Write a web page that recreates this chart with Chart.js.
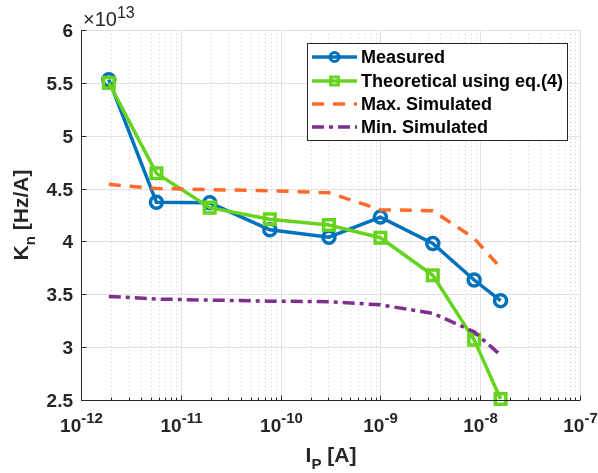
<!DOCTYPE html>
<html>
<head>
<meta charset="utf-8">
<script src="https://cdn.jsdelivr.net/npm/chart.js@4/dist/chart.umd.min.js"></script>
<style>
  html, body { margin: 0; padding: 0; background: #fff; }
</style>
</head>
<body>
<canvas id="kn" width="598" height="473"></canvas>
<script>
// probe current I_P [A]
const currents = [1.9e-12, 5.7e-12, 1.95e-11, 7.8e-11, 3.05e-10, 1.0e-9, 3.35e-9, 8.7e-9, 1.6e-8];
// K_n in units of 1e13 Hz/A
const measured    = [5.53, 4.37, 4.365, 4.11, 4.04, 4.23, 3.98, 3.635, 3.44];
const theoretical = [5.50, 4.645, 4.32, 4.21, 4.155, 4.035, 3.68, 3.07, 2.51];
const maxSim      = [4.54, 4.50, 4.49, 4.48, 4.46, 4.30, 4.29, 4.03, 3.75];
const minSim      = [3.48, 3.455, 3.445, 3.435, 3.43, 3.40, 3.32, 3.145, 2.925];

const yTicks = [2.5, 3, 3.5, 4, 4.5, 5, 5.5, 6];
const yTickLabels = ['2.5', '3', '3.5', '4', '4.5', '5', '5.5', '6'];
const xDecades = [-12, -11, -10, -9, -8, -7];

const seriesNames = ['Measured', 'Theoretical using eq.(4)', 'Max. Simulated', 'Min. Simulated'];

const INK = '#262626';
const FONT = '"Liberation Sans", Arial, sans-serif';

const pts = vals => vals.map((v, i) => ({ x: currents[i], y: v }));

// text with a raised exponent, centred on cx
function powText(ctx, base, exp, cx, baseline, bigFont, smallFont, raise, align) {
  ctx.font = bigFont;
  const wb = ctx.measureText(base).width;
  ctx.font = smallFont;
  const we = ctx.measureText(exp).width;
  let x0 = align === 'left' ? cx : cx - (wb + we) / 2;
  ctx.textAlign = 'left';
  ctx.textBaseline = 'alphabetic';
  ctx.font = bigFont;
  ctx.fillText(base, x0, baseline);
  ctx.font = smallFont;
  ctx.fillText(exp, x0 + wb, baseline - raise);
}

const frame = {
  id: 'frame',
  beforeDatasetsDraw(chart) {
    const { ctx, chartArea: a, scales: { x, y } } = chart;
    ctx.save();
    ctx.lineWidth = 1;

    // minor vertical grid (dotted)
    ctx.strokeStyle = '#cccccc';
    ctx.setLineDash([1, 3]);
    xDecades.slice(0, -1).forEach(d => {
      for (let m = 2; m <= 9; m++) {
        const px = Math.round(x.getPixelForValue(m * Math.pow(10, d))) + 0.5;
        ctx.beginPath(); ctx.moveTo(px, a.top); ctx.lineTo(px, a.bottom); ctx.stroke();
      }
    });

    // major grid
    ctx.setLineDash([]);
    ctx.strokeStyle = '#e1e1e1';
    xDecades.forEach(d => {
      const px = Math.round(x.getPixelForValue(Math.pow(10, d))) + 0.5;
      ctx.beginPath(); ctx.moveTo(px, a.top); ctx.lineTo(px, a.bottom); ctx.stroke();
    });
    yTicks.forEach(t => {
      const py = Math.round(y.getPixelForValue(t)) + 0.5;
      ctx.beginPath(); ctx.moveTo(a.left, py); ctx.lineTo(a.right, py); ctx.stroke();
    });
    ctx.restore();
  },
  afterDraw(chart) {
    const { ctx, chartArea: a, scales: { x, y } } = chart;
    ctx.save();
    ctx.strokeStyle = INK;
    ctx.fillStyle = INK;
    ctx.lineWidth = 1;

    // axes lines
    const L = Math.round(a.left) + 0.5, B = Math.round(a.bottom) + 0.5;
    ctx.beginPath();
    ctx.moveTo(L, a.top); ctx.lineTo(L, B); ctx.lineTo(a.right, B);
    ctx.stroke();

    // x ticks
    xDecades.forEach((d, i) => {
      const px = Math.round(x.getPixelForValue(Math.pow(10, d))) + 0.5;
      ctx.beginPath(); ctx.moveTo(px, B); ctx.lineTo(px, B - 5); ctx.stroke();
      if (i < xDecades.length - 1) {
        for (let m = 2; m <= 9; m++) {
          const mx = Math.round(x.getPixelForValue(m * Math.pow(10, d))) + 0.5;
          ctx.beginPath(); ctx.moveTo(mx, B); ctx.lineTo(mx, B - 3); ctx.stroke();
        }
      }
      powText(ctx, '10', '-' + Math.abs(d), px, 432, 'bold 19px ' + FONT, 'bold 15px ' + FONT, 9);
    });

    // y ticks
    yTicks.forEach((t, i) => {
      const py = Math.round(y.getPixelForValue(t)) + 0.5;
      ctx.beginPath(); ctx.moveTo(L, py); ctx.lineTo(L + 5, py); ctx.stroke();
      ctx.font = 'bold 19px ' + FONT;
      ctx.textAlign = 'right';
      ctx.textBaseline = 'middle';
      ctx.fillText(yTickLabels[i], 73, py + 1);
    });

    // exponent multiplier
    powText(ctx, '\u00d710', '13', 83, 26, '20px ' + FONT, '16px ' + FONT, 8, 'left');

    // x label I_P [A]
    ctx.textBaseline = 'alphabetic';
    ctx.textAlign = 'left';
    ctx.font = 'bold 21px ' + FONT;
    const wI = ctx.measureText('I').width;
    ctx.font = 'bold 15px ' + FONT;
    const wP = ctx.measureText('P').width;
    ctx.font = 'bold 21px ' + FONT;
    const wA = ctx.measureText(' [A]').width;
    let sx = 331 - (wI + wP + wA) / 2;
    ctx.fillText('I', sx, 462);
    ctx.font = 'bold 15px ' + FONT;
    ctx.fillText('P', sx + wI, 469);
    ctx.font = 'bold 21px ' + FONT;
    ctx.fillText(' [A]', sx + wI + wP, 462);

    // y label K_n [Hz/A]
    ctx.save();
    ctx.translate(28, 215);
    ctx.rotate(-Math.PI / 2);
    ctx.font = 'bold 21px ' + FONT;
    const wK = ctx.measureText('K').width;
    ctx.font = 'bold 15px ' + FONT;
    const wn = ctx.measureText('n').width;
    ctx.font = 'bold 21px ' + FONT;
    const wH = ctx.measureText(' [Hz/A]').width;
    sx = -(wK + wn + wH) / 2;
    ctx.fillText('K', sx, 0);
    ctx.font = 'bold 15px ' + FONT;
    ctx.fillText('n', sx + wK, 7);
    ctx.font = 'bold 21px ' + FONT;
    ctx.fillText(' [Hz/A]', sx + wK + wn, 0);
    ctx.restore();

    // legend
    const box = { l: 307.5, t: 43.5, r: 567.5, b: 140.5 };
    ctx.fillStyle = '#fff';
    ctx.fillRect(box.l, box.t, box.r - box.l, box.b - box.t);
    ctx.strokeStyle = INK;
    ctx.strokeRect(box.l, box.t, box.r - box.l, box.b - box.t);
    const rows = [57, 81, 104, 127];
    chart.data.datasets.forEach((ds, i) => {
      const ry = rows[i];
      ctx.save();
      ctx.strokeStyle = ds.borderColor;
      ctx.lineWidth = ds.borderWidth;
      ctx.setLineDash(ds.borderDash || []);
      ctx.beginPath(); ctx.moveTo(312, ry); ctx.lineTo(357, ry); ctx.stroke();
      ctx.setLineDash([]);
      if (ds.pointRadius > 0) {
        ctx.fillStyle = 'rgba(0,0,0,0)';
        ctx.lineWidth = 3;
        Chart.helpers.drawPoint(ctx, {
          pointStyle: ds.pointStyle, radius: ds.pointStyle === 'rect' ? 5.5 : 4.5,
          rotation: 0, borderWidth: 3
        }, 334.5, ry);
      }
      ctx.restore();
      ctx.fillStyle = '#000';
      ctx.font = 'bold 18px ' + FONT;
      ctx.textAlign = 'left';
      ctx.textBaseline = 'middle';
      ctx.fillText(seriesNames[i], 361, ry + 1);
    });
    ctx.restore();
  }
};

new Chart(document.getElementById('kn'), {
  type: 'line',
  data: {
    datasets: [
      {
        label: seriesNames[0], data: pts(measured), order: 4,
        borderColor: '#0072BD', borderWidth: 3.5, pointStyle: 'circle',
        pointRadius: 6, pointBorderWidth: 3.5, pointBackgroundColor: 'rgba(0,0,0,0)',
        pointBorderColor: '#0072BD', clip: false
      },
      {
        label: seriesNames[1], data: pts(theoretical), order: 3,
        borderColor: '#66D41E', borderWidth: 3.5, pointStyle: 'rect',
        pointRadius: 7.5, pointBorderWidth: 3.5, pointBackgroundColor: 'rgba(0,0,0,0)',
        pointBorderColor: '#66D41E', clip: false
      },
      {
        label: seriesNames[2], data: pts(maxSim), order: 2,
        borderColor: '#FF6929', borderWidth: 3.5, borderDash: [12, 9], pointRadius: 0
      },
      {
        label: seriesNames[3], data: pts(minSim), order: 1,
        borderColor: '#7E2F8E', borderWidth: 3.5, borderDash: [12, 5, 4, 5], pointRadius: 0
      }
    ]
  },
  options: {
    responsive: false,
    animation: false,
    devicePixelRatio: 1,
    layout: { padding: { left: 81, right: 18, top: 30, bottom: 73 } },
    plugins: { legend: { display: false }, tooltip: { enabled: false } },
    elements: { line: { tension: 0 } },
    scales: {
      x: {
        type: 'logarithmic', min: 1e-12, max: 1e-7,
        ticks: { display: false }, grid: { display: false, drawTicks: false },
        border: { display: false },
        afterFit: s => { s.height = 0; }
      },
      y: {
        type: 'linear', min: 2.5, max: 6,
        ticks: { display: false }, grid: { display: false, drawTicks: false },
        border: { display: false },
        afterFit: s => { s.width = 0; }
      }
    }
  },
  plugins: [frame]
});
</script>
</body>
</html>
